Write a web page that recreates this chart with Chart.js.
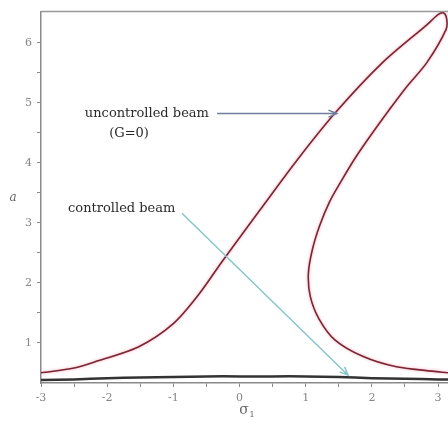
<!DOCTYPE html>
<html>
<head>
<meta charset="utf-8">
<script src="https://cdn.jsdelivr.net/npm/chart.js@4.4.0/dist/chart.umd.min.js"></script>
<style>
  html, body { margin: 0; padding: 0; background: #fff; }
</style>
</head>
<body>
<canvas id="freqChart" width="448" height="428"></canvas>
<script>
// uncontrolled beam (G=0), traced in drawing order (outer branch up, fold, inner branch down)
const sigmaFree = [-3.0, -2.5, -2.14, -1.53, -1.0, -0.62, -0.26, 0.30, 0.88, 1.46, 2.16, 2.83, 3.0, 3.08, 3.13, 3.12,
                   2.83, 2.52, 2.26, 2.01, 1.76, 1.55, 1.36, 1.21, 1.10, 1.04, 1.07, 1.20, 1.44, 1.87, 2.37, 2.98, 3.15];
const ampFree   = [0.50, 0.58, 0.70, 0.93, 1.32, 1.80, 2.36, 3.20, 4.06, 4.85, 5.67, 6.30, 6.47, 6.50, 6.40, 6.22,
                   5.67, 5.26, 4.88, 4.50, 4.10, 3.72, 3.35, 2.95, 2.55, 2.15, 1.77, 1.40, 1.05, 0.77, 0.60, 0.52, 0.50];

// controlled beam
const sigmaCtrl = [-3.0, -2.5, -2.0, -1.5, -1.0, -0.5, 0.0, 0.5, 1.0, 1.5, 2.0, 2.5, 3.0, 3.15];
const ampCtrl   = [0.38, 0.39, 0.41, 0.42, 0.43, 0.44, 0.44, 0.44, 0.44, 0.43, 0.41, 0.40, 0.39, 0.39];

// axis ticks
const xTicks = [-3, -2, -1, 0, 1, 2, 3];
const xMinor = [-2.5, -1.5, -0.5, 0.5, 1.5, 2.5];
const yTicks = [1, 2, 3, 4, 5, 6];
const yMinor = [1.5, 2.5, 3.5, 4.5, 5.5];

const toPts = (xs, ys) => xs.map((x, i) => ({x: x, y: ys[i]}));
const tickFont = {family: '"DejaVu Serif"', size: 11};
const tickGray = '#858585';

// annotation text + arrows, placed in data coordinates
const notes = [
  {text: 'uncontrolled beam', x: -1.40, y: 4.82},
  {text: '(G=0)', x: -1.67, y: 4.49},
  {text: 'controlled beam', x: -1.78, y: 3.24}
];
const arrows = [
  {from: [-0.34, 4.82], to: [1.47, 4.82], color: '#6f7d9c'},
  {from: [-0.87, 3.16], to: [1.64, 0.46], color: '#86c6ca'}
];

const notesPlugin = {
  id: 'notes',
  beforeDatasetDraw(chart, args) {
    if (args.index === 0) {
      chart.ctx.save();
      chart.ctx.shadowColor = 'rgba(235,120,140,0.7)';
      chart.ctx.shadowBlur = 3;
    }
  },
  afterDatasetDraw(chart, args) {
    if (args.index === 0) chart.ctx.restore();
  },
  afterDraw(chart) {
    const {ctx, chartArea, scales: {x, y}} = chart;
    ctx.save();
    // top frame line
    ctx.strokeStyle = '#999';
    ctx.lineWidth = 1.5;
    ctx.beginPath();
    ctx.moveTo(chartArea.left, chartArea.top);
    ctx.lineTo(chartArea.right, chartArea.top);
    ctx.stroke();

    ctx.fillStyle = '#2a2a2a';
    ctx.font = '13px "DejaVu Serif"';
    ctx.textAlign = 'center';
    ctx.textBaseline = 'middle';
    notes.forEach(n => ctx.fillText(n.text, x.getPixelForValue(n.x), y.getPixelForValue(n.y)));

    arrows.forEach(a => {
      const x0 = x.getPixelForValue(a.from[0]), y0 = y.getPixelForValue(a.from[1]);
      const x1 = x.getPixelForValue(a.to[0]), y1 = y.getPixelForValue(a.to[1]);
      const ang = Math.atan2(y1 - y0, x1 - x0);
      ctx.strokeStyle = a.color;
      ctx.lineWidth = 1.5;
      ctx.beginPath();
      ctx.moveTo(x0, y0);
      ctx.lineTo(x1, y1);
      ctx.moveTo(x1 - 9 * Math.cos(ang - 0.4), y1 - 9 * Math.sin(ang - 0.4));
      ctx.lineTo(x1, y1);
      ctx.lineTo(x1 - 9 * Math.cos(ang + 0.4), y1 - 9 * Math.sin(ang + 0.4));
      ctx.stroke();
    });

    // axis titles
    ctx.fillStyle = '#666';
    ctx.font = 'italic 12px "DejaVu Serif"';
    ctx.fillText('a', 13, 198);
    ctx.font = '14px "DejaVu Serif"';
    ctx.fillText('σ', 244, 410);
    ctx.font = '8px "DejaVu Serif"';
    ctx.fillText('1', 252, 415);
    ctx.restore();
  }
};

new Chart(document.getElementById('freqChart'), {
  type: 'scatter',
  data: {
    datasets: [{
      label: 'uncontrolled beam (G=0)',
      data: toPts(sigmaFree, ampFree),
      showLine: true,
      borderColor: '#7a2535',
      borderWidth: 1.6,
      pointRadius: 0,
      tension: 0.3
    }, {
      label: 'controlled beam',
      data: toPts(sigmaCtrl, ampCtrl),
      showLine: true,
      borderColor: '#333',
      borderWidth: 2.5,
      pointRadius: 0,
      tension: 0.3
    }]
  },
  options: {
    responsive: false,
    animation: false,
    layout: {padding: {top: 11, right: 0, bottom: 0, left: 0}},
    plugins: {legend: {display: false}, tooltip: {enabled: false}},
    scales: {
      x: {
        type: 'linear',
        min: -3,
        max: 3.15,
        afterBuildTicks: s => { s.ticks = xTicks.concat(xMinor).sort((a, b) => a - b).map(v => ({value: v})); },
        afterFit: s => { s.height = 45; },
        ticks: {
          callback: v => xTicks.includes(v) ? String(v) : '',
          autoSkip: false, maxRotation: 0, padding: 5, font: tickFont, color: tickGray
        },
        grid: {drawOnChartArea: false, drawTicks: true, tickLength: 4, tickColor: '#8a8a8a'},
        border: {color: '#8a8a8a', width: 1.5}
      },
      y: {
        type: 'linear',
        min: 0.33,
        max: 6.52,
        afterBuildTicks: s => { s.ticks = yTicks.concat(yMinor).sort((a, b) => a - b).map(v => ({value: v})); },
        afterFit: s => { s.width = 41; },
        ticks: {
          callback: v => yTicks.includes(v) ? String(v) : '',
          autoSkip: false, padding: 5, font: tickFont, color: tickGray
        },
        grid: {drawOnChartArea: false, drawTicks: true, tickLength: 4, tickColor: '#8a8a8a'},
        border: {color: '#8a8a8a', width: 1.5}
      }
    }
  },
  plugins: [notesPlugin]
});
</script>
</body>
</html>
